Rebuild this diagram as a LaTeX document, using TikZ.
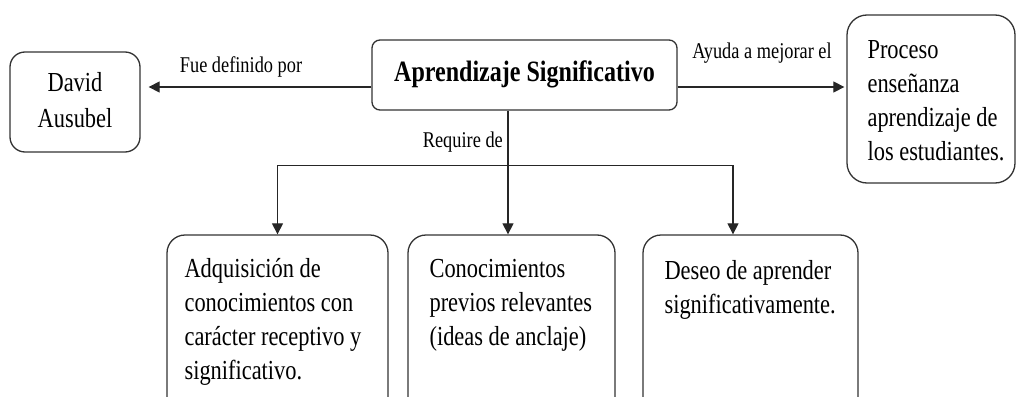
\documentclass[tikz,border=0pt]{standalone}
\usepackage{fontspec}
\setmainfont{Liberation Serif}
\usetikzlibrary{arrows.meta,positioning}
\newcommand{\lineas}[2][l]{\scalebox{0.815}[1]{\begin{tabular}{@{}#1@{}}#2\end{tabular}}}
\begin{document}
\begin{tikzpicture}[x=1pt,y=-1pt,
    caja/.style={draw=black!80,line width=1.3pt,rounded corners=18pt,inner sep=0pt},
    texto/.style={font=\fontsize{27.5}{34}\selectfont,inner sep=0pt},
    etiqueta/.style={font=\fontsize{22.5}{26}\selectfont,inner sep=0pt},
    flecha/.style={draw=black!85,line width=1.2pt,-{Triangle[length=11pt,width=11pt]}}]
    \useasboundingbox (0,0) rectangle (1016,396);
    \clip (0,0) rectangle (1016,396);
    % upper row
    \node[caja,rounded corners=8pt,minimum width=305pt,minimum height=70pt,
      font=\bfseries\fontsize{29.5}{34}\selectfont] (apr) at (524.5,75) {\lineas{Aprendizaje Significativo}};
    \node[caja,rounded corners=15pt,minimum width=130pt,minimum height=100pt,texto,
      font=\fontsize{27.5}{36}\selectfont] (dav) at (75,102) {\lineas[c]{David\\Ausubel}};
    \node[caja,rounded corners=20pt,minimum width=168pt,minimum height=168pt] (pro) at (931,99) {};
    \node[texto,anchor=west] (prot) at ([xshift=21pt,yshift=-4pt]pro.west) {\lineas{Proceso\\enseñanza\\aprendizaje de\\los estudiantes.}};
    % lower row
    \node[caja,minimum width=221pt,minimum height=180pt] (adq) at (277.5,325) {};
    \node[caja,minimum width=207pt,minimum height=180pt] (con) at (511.5,325) {};
    \node[caja,minimum width=215pt,minimum height=180pt] (des) at (750.5,325) {};
    \node[texto,anchor=north west] (adqt) at ([xshift=18pt,yshift=-19pt]adq.north west) {\lineas{Adquisición de\\conocimientos con\\carácter receptivo y\\significativo.}};
    \node[texto,anchor=north west] (cont) at ([xshift=22pt,yshift=-19pt]con.north west) {\lineas{Conocimientos\\previos relevantes\\(ideas de anclaje)}};
    \node[texto,anchor=north west] (dest) at ([xshift=22pt,yshift=-21pt]des.north west) {\lineas{Deseo de aprender\\significativamente.}};
    % connectors
    \draw[flecha,shorten >=8pt] ([yshift=-12pt]apr.west) -- ([yshift=-12pt]apr.west -| dav.east)
      node[etiqueta,pos=0.565,anchor=base,yshift=15pt] (fue) {\lineas{Fue definido por}};
    \draw[flecha,shorten >=2pt] ([yshift=-12pt]apr.east) -- ([yshift=-12pt]apr.east -| pro.west)
      node[etiqueta,pos=0.5,anchor=base,yshift=29pt] (ayu) {\lineas{Ayuda a mejorar el}};
    \coordinate (baja) at ([xshift=-16.5pt]apr.south);
    \coordinate (nudo) at ([yshift=-55pt]baja);
    \draw[flecha] (baja) -- (baja |- con.north);
    \node[etiqueta,anchor=base east] (req) at ([xshift=-5pt,yshift=-37pt]baja) {\lineas{Require de}};
    \draw[flecha] (nudo) -| (adq.north);
    \draw[flecha] (nudo) -| ([xshift=-17.5pt]des.north);
\end{tikzpicture}
\end{document}
